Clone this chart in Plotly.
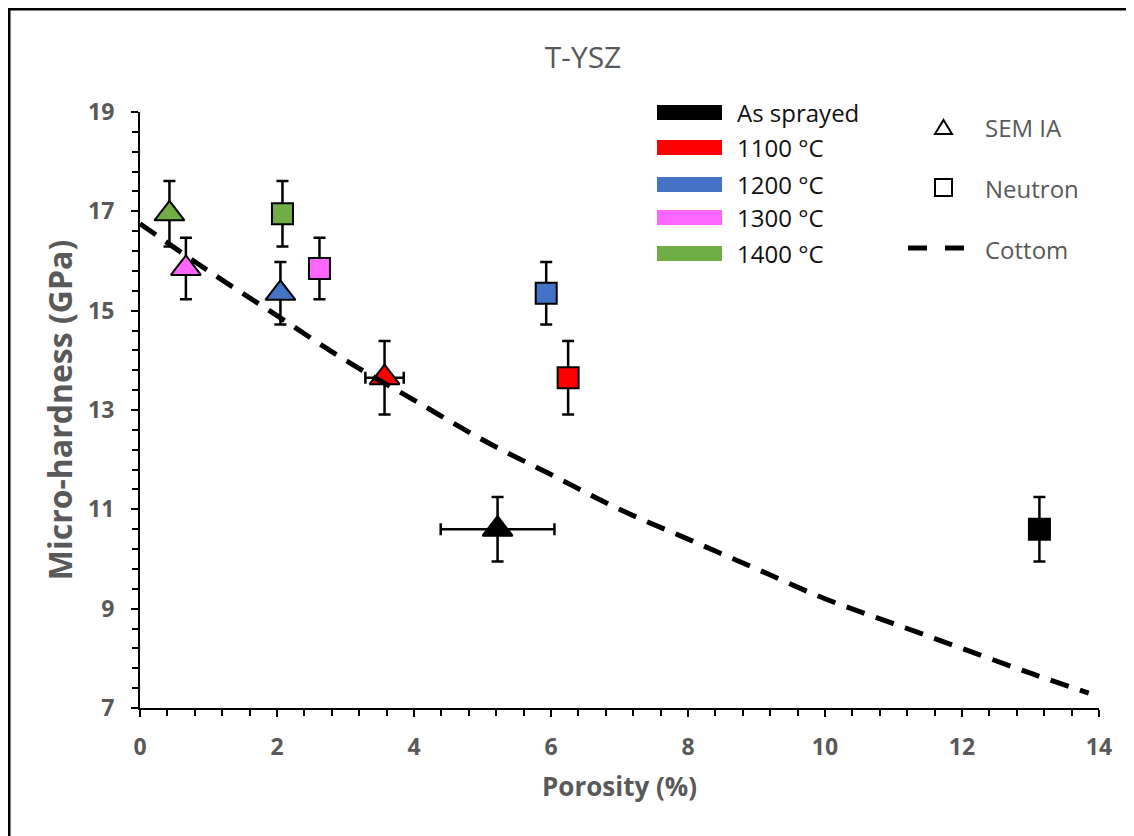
import plotly.graph_objects as go

# ---------------- data ----------------
conditions = ["As sprayed", "1100 °C", "1200 °C", "1300 °C", "1400 °C"]
colors = ["#000000", "#FF0000", "#4472C4", "#FF66FF", "#70AD47"]

sem_porosity = [5.22, 3.57, 2.05, 0.67, 0.43]
sem_porosity_err = [0.83, 0.28, 0.0, 0.0, 0.0]
sem_hardness = [10.60, 13.65, 15.35, 15.85, 16.95]

neutron_porosity = [13.13, 6.25, 5.93, 2.62, 2.08]
neutron_hardness = [10.60, 13.65, 15.35, 15.85, 16.95]

hardness_err = [0.65, 0.74, 0.63, 0.62, 0.66]

cottom_porosity = [0, 1, 2, 3, 4, 5, 6, 7, 8, 9, 10, 11, 12, 13, 13.85]
cottom_hardness = [16.75, 15.8, 14.9, 14.0, 13.2, 12.4, 11.7, 11.0, 10.4,
                   9.8, 9.2, 8.7, 8.2, 7.7, 7.3]

x_ticks = [0, 2, 4, 6, 8, 10, 12, 14]
y_ticks = [7, 9, 11, 13, 15, 17, 19]

legend2_labels = ["SEM IA", "Neutron", "Cottom"]

# ---------------- layout geometry ----------------
# the page body has an 8px margin, so the figure starts at (8, 8) in the window
OFF = 8
WIN_W, WIN_H = 1134, 836
W, H = WIN_W - OFF, WIN_H - OFF
# plot area in window pixels: x 140..1099, y 112..708
L, R, T, B = 140 - OFF, WIN_W - 1099, 112 - OFF, WIN_H - 708
PW, PH = W - L - R, H - T - B


def px(x):  # window pixel -> paper x
    return (x - OFF - L) / PW


def py(y):  # window pixel -> paper y
    return (H - B - (y - OFF)) / PH


GRAY = "#595959"
FONT = "Open Sans"

fig = go.Figure()

err_style = dict(color="black", thickness=2.5, width=6)

fig.add_trace(go.Scatter(
    x=sem_porosity, y=sem_hardness, mode="markers", name="SEM IA",
    marker=dict(symbol="triangle-up", size=26, color=colors,
                line=dict(color="black", width=2)),
    error_y=dict(type="data", array=hardness_err, visible=True, **err_style),
    error_x=dict(type="data", array=sem_porosity_err, visible=True, **err_style),
    showlegend=False,
))

fig.add_trace(go.Scatter(
    x=neutron_porosity, y=neutron_hardness, mode="markers", name="Neutron",
    marker=dict(symbol="square", size=21, color=colors,
                line=dict(color="black", width=2)),
    error_y=dict(type="data", array=hardness_err, visible=True, **err_style),
    showlegend=False,
))

fig.add_trace(go.Scatter(
    x=cottom_porosity, y=cottom_hardness, mode="lines", name="Cottom",
    line=dict(color="black", width=5, dash="19px,12px", shape="spline"),
    showlegend=False,
))

shapes = []
annotations = []

# colour legend
rows_y = [112.5, 147.5, 184.5, 217.5, 253.5]
for lab, col, yy in zip(conditions, colors, rows_y):
    shapes.append(dict(type="rect", xref="paper", yref="paper",
                       x0=px(657), x1=px(722), y0=py(yy + 7.5), y1=py(yy - 7.5),
                       fillcolor=col, line=dict(width=0)))
    annotations.append(dict(xref="paper", yref="paper", x=px(735), y=py(yy),
                            xanchor="left", yanchor="middle", showarrow=False,
                            text=lab, font=dict(family=FONT, size=24, color="#111111")))

# symbol legend
leg2_y = [127, 188, 249]
shapes.append(dict(type="path", xref="paper", yref="paper",
                   path=f"M {px(935)},{py(134)} L {px(952)},{py(134)} L {px(943.5)},{py(120)} Z",
                   line=dict(color="black", width=2), fillcolor="white"))
shapes.append(dict(type="rect", xref="paper", yref="paper",
                   x0=px(935), x1=px(952), y0=py(196), y1=py(179),
                   line=dict(color="black", width=2), fillcolor="white"))
for x0, x1 in [(908, 927), (945, 964)]:
    shapes.append(dict(type="line", xref="paper", yref="paper",
                       x0=px(x0), x1=px(x1), y0=py(248), y1=py(248),
                       line=dict(color="black", width=5)))
for lab, yy in zip(legend2_labels, leg2_y):
    annotations.append(dict(xref="paper", yref="paper", x=px(983), y=py(yy),
                            xanchor="left", yanchor="middle", showarrow=False,
                            text=lab, font=dict(family=FONT, size=24, color=GRAY)))

# outer frame (left and top edges) at the figure's edge
shapes.append(dict(type="line", xref="paper", yref="paper",
                   x0=px(OFF + 1), x1=px(OFF + 1), y0=py(OFF), y1=py(WIN_H + 5),
                   line=dict(color="black", width=3)))
shapes.append(dict(type="line", xref="paper", yref="paper",
                   x0=px(OFF), x1=px(WIN_W + 5), y0=py(OFF + 1), y1=py(OFF + 1),
                   line=dict(color="black", width=3)))

axis_common = dict(
    showgrid=False, zeroline=False, showline=True, linecolor="black",
    linewidth=2, ticks="outside", ticklen=7, tickwidth=2, tickcolor="black",
    tickfont=dict(family=FONT, size=23, color=GRAY, weight="bold"),
)

fig.update_layout(
    width=W, height=H,
    margin=dict(l=L, r=R, t=T, b=B),
    paper_bgcolor="white", plot_bgcolor="white",
    title=dict(text="T-YSZ", x=(583 - OFF) / W, xanchor="center",
               y=1 - (57 - OFF) / H, yanchor="middle",
               font=dict(family=FONT, size=30, color=GRAY)),
    xaxis=dict(range=[0, 14], tickvals=x_ticks, ticklabelstandoff=10,
               title=dict(text="Porosity (%)", standoff=17,
                          font=dict(family=FONT, size=26, color=GRAY, weight="bold")),
               minor=dict(dtick=0.4, tick0=0, ticks="outside", ticklen=6,
                          tickwidth=2, tickcolor="black"),
               **axis_common),
    yaxis=dict(range=[7, 19], tickvals=y_ticks, ticklabelstandoff=12,
               title=dict(text="Micro-hardness (GPa)", standoff=6,
                          font=dict(family=FONT, size=32, color=GRAY, weight="bold")),
               minor=dict(dtick=0.4, tick0=7, ticks="outside", ticklen=6,
                          tickwidth=2, tickcolor="black"),
               **axis_common),
    shapes=shapes,
    annotations=annotations,
)

fig.write_html("out.html")
